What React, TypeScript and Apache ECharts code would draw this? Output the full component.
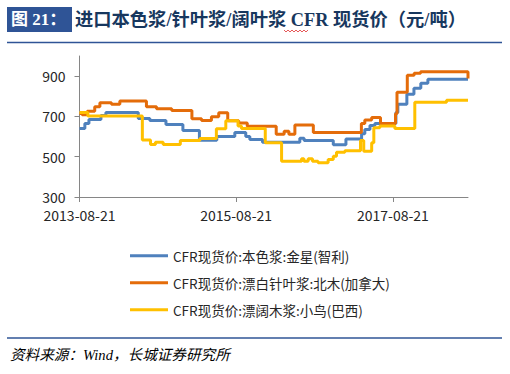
import React, { useEffect, useRef } from 'react';
import * as echarts from 'echarts';

// ---------- data ----------
const ORIGIN = '2013-08-21';
const X_END = '2018-08-06';
const X_TICK_DATES = ['2013-08-21', '2015-08-21', '2017-08-21'];
const Y_TICKS = [300, 500, 700, 900];

const SERIES_NAMES = [
  'CFR现货价:本色浆:金星(智利)',
  'CFR现货价:漂白针叶浆:北木(加拿大)',
  'CFR现货价:漂阔木浆:小鸟(巴西)',
];

// 本色浆:金星(智利)
const unbleachedDates = ['2013-08-21', '2013-09-15', '2013-10-04', '2013-11-29', '2013-12-22', '2014-05-22', '2014-07-15', '2014-09-28', '2014-12-16', '2015-03-03', '2015-05-23', '2015-08-15', '2015-10-05', '2015-10-24', '2015-12-22', '2016-06-13', '2016-07-03', '2016-11-16', '2017-01-14', '2017-03-28', '2017-04-12', '2017-05-06', '2017-05-29', '2017-09-04', '2017-09-13', '2017-10-25', '2017-11-27', '2017-12-29', '2018-01-31', '2018-08-06'];
const unbleachedValues = [640, 665, 685, 705, 720, 690, 680, 660, 630, 582, 600, 620, 600, 585, 572, 592, 580, 560, 588, 614, 635, 655, 665, 720, 760, 810, 840, 865, 884, 884];

// 漂白针叶浆:北木(加拿大)
const softwoodDates = ['2013-08-21', '2013-09-02', '2013-09-26', '2013-10-31', '2013-11-24', '2014-01-17', '2014-02-25', '2014-06-29', '2014-08-15', '2014-10-25', '2015-01-27', '2015-03-13', '2015-04-28', '2015-06-01', '2015-07-13', '2015-09-02', '2015-10-12', '2016-02-24', '2016-04-01', '2016-04-23', '2016-05-21', '2016-08-15', '2017-03-27', '2017-04-12', '2017-05-14', '2017-06-24', '2017-09-02', '2017-09-09', '2017-10-27', '2017-11-28', '2017-12-28', '2018-08-06'];
const softwoodValues = [715, 708, 726, 748, 768, 760, 776, 748, 738, 730, 689, 680, 698, 718, 678, 667, 651, 612, 627, 612, 658, 620, 665, 682, 695, 665, 713, 820, 905, 914, 922, 888];

// 漂阔木浆:小鸟(巴西)
const hardwoodDates = ['2013-08-21', '2013-09-29', '2014-06-10', '2014-07-18', '2014-08-10', '2014-09-15', '2014-12-04', '2015-03-05', '2015-05-21', '2015-07-04', '2015-08-30', '2015-09-15', '2016-01-04', '2016-03-20', '2016-06-21', '2016-07-02', '2016-07-22', '2016-08-11', '2016-09-06', '2016-10-23', '2016-11-16', '2016-12-01', '2017-01-09', '2017-03-23', '2017-04-07', '2017-05-14', '2017-05-24', '2017-06-21', '2017-08-30', '2017-12-01', '2018-04-28', '2018-08-06'];
const hardwoodValues = [720, 702, 583, 561, 572, 561, 581, 590, 639, 678, 652, 640, 569, 478, 490, 478, 490, 478, 470, 486, 502, 522, 530, 580, 527, 569, 644, 652, 640, 770, 780, 780];

const COLORS = ['#4F81BD', '#E46C0A', '#FFC000'];

// ---------- helpers ----------
const DAY = 86400000;
const utc = (s: string) => {
  const [y, m, d] = s.split('-').map(Number);
  return Date.UTC(y, m - 1, d);
};
const dayOf = (s: string) => Math.round((utc(s) - utc(ORIGIN)) / DAY);
const fmtDay = (v: number) => {
  const d = new Date(utc(ORIGIN) + Math.round(v) * DAY);
  const p = (n: number) => String(n).padStart(2, '0');
  return `${d.getUTCFullYear()}-${p(d.getUTCMonth() + 1)}-${p(d.getUTCDate())}`;
};
const pairs = (dates: string[], vals: number[]) => dates.map((d, i) => [dayOf(d), vals[i]]);

const AXIS_FONT = "'Noto Sans CJK SC', 'Noto Sans', sans-serif";
const SERIF_CJK = "'Liberation Serif', 'Noto Sans CJK SC', serif";

export default function App() {
  const ref = useRef<HTMLDivElement>(null);

  useEffect(() => {
    if (!ref.current) return;
    const chart = echarts.init(ref.current, undefined, { renderer: 'svg' });
    const xTicks = X_TICK_DATES.map(dayOf);
    const allData = [
      pairs(unbleachedDates, unbleachedValues),
      pairs(softwoodDates, softwoodValues),
      pairs(hardwoodDates, hardwoodValues),
    ];
    chart.setOption({
      animation: false,
      backgroundColor: '#ffffff',
      grid: { left: 79.5, right: 42, top: 56, bottom: 177, containLabel: false },
      xAxis: {
        type: 'value',
        min: 0,
        max: dayOf(X_END),
        splitLine: { show: false },
        axisLine: { show: true, lineStyle: { color: '#868686', width: 1 } },
        axisTick: { show: true, customValues: xTicks, length: 5, lineStyle: { color: '#868686' } },
        axisLabel: {
          customValues: xTicks,
          formatter: (v: number) => fmtDay(v),
          fontFamily: AXIS_FONT,
          fontSize: 14,
          color: '#262626',
          margin: 11,
        },
      },
      yAxis: {
        type: 'value',
        min: 300,
        max: 1000,
        splitLine: { show: false },
        axisLine: { show: true, lineStyle: { color: '#868686', width: 1 } },
        axisTick: { show: true, customValues: Y_TICKS, length: 5, lineStyle: { color: '#868686' } },
        axisLabel: {
          customValues: Y_TICKS,
          fontFamily: AXIS_FONT,
          fontSize: 14,
          color: '#262626',
          margin: 14,
        },
      },
      legend: {
        orient: 'vertical',
        left: 125,
        top: 244,
        icon: 'rect',
        itemWidth: 38,
        itemHeight: 3,
        itemGap: 13.5,
        textStyle: { fontFamily: AXIS_FONT, fontSize: 13.5, color: '#262626' },
        data: SERIES_NAMES,
      },
      series: SERIES_NAMES.map((name, i) => ({
        name,
        type: 'line',
        step: 'end',
        symbol: 'none',
        data: allData[i],
        color: COLORS[i],
        lineStyle: { width: 3, color: COLORS[i] },
      })),
      graphic: [
        { type: 'rect', shape: { x: 7, y: 7, width: 65, height: 25 }, style: { fill: '#2F5496' } },
        {
          type: 'text', x: 11, y: 19.5,
          style: { text: '图 21：', fill: '#ffffff', font: `bold 17px ${SERIF_CJK}`, verticalAlign: 'middle' },
        },
        {
          type: 'text', x: 75, y: 19.5,
          style: {
            text: '进口本色浆/针叶浆/阔叶浆 CFR 现货价（元/吨）',
            fill: '#17375E', font: `bold 18.3px ${SERIF_CJK}`, verticalAlign: 'middle',
          },
        },
        {
          type: 'polyline',
          shape: { points: [[284, 30], [286, 32], [288, 30], [290, 32], [292, 30], [294, 32], [296, 30], [298, 32], [300, 30], [302, 32], [304, 30], [306, 32], [308, 30]] },
          style: { stroke: '#E03030', lineWidth: 0.8, fill: 'none' },
        },
        { type: 'line', shape: { x1: 7, y1: 42.5, x2: 502, y2: 42.5 }, style: { stroke: '#2F5496', lineWidth: 1.5 } },
        { type: 'line', shape: { x1: 7, y1: 338, x2: 502, y2: 338 }, style: { stroke: '#2F5496', lineWidth: 1.5 } },
        {
          type: 'text', x: 10, y: 355,
          style: {
            text: '资料来源：Wind，长城证券研究所',
            fill: '#000000', font: `italic 14.6px ${SERIF_CJK}`, verticalAlign: 'middle',
          },
        },
      ],
    });
    return () => chart.dispose();
  }, []);

  return (
    <div
      ref={ref}
      style={{ position: 'absolute', left: 0, top: 0, width: 510, height: 374, background: '#fff' }}
    />
  );
}
